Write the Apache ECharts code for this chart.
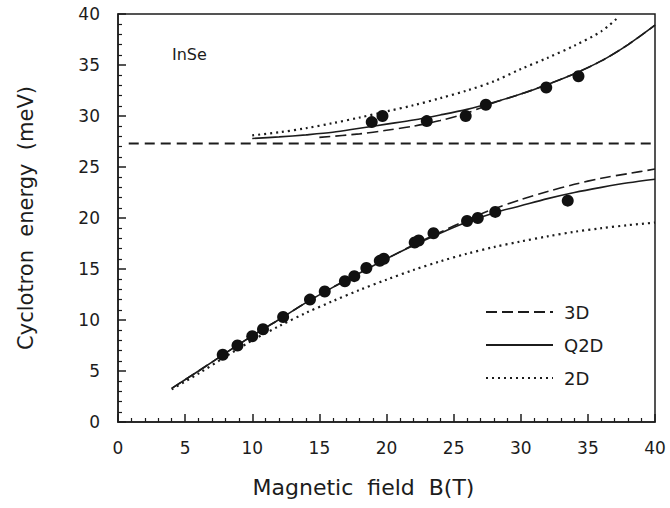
<!DOCTYPE html>
<html>
<head>
<meta charset="utf-8">
<script src="https://cdn.jsdelivr.net/npm/echarts@6/dist/echarts.min.js"></script>
<style>
  html, body { margin: 0; padding: 0; background: #fff; }
  #chart { width: 670px; height: 508px; }
</style>
</head>
<body>
<div id="chart"></div>
<script>
// tick values
var xTicks = [0, 5, 10, 15, 20, 25, 30, 35, 40];
var yTicks = [0, 5, 10, 15, 20, 25, 30, 35, 40];

// measured points (B, energy)
var dotsLower = [
	[7.8, 6.6], [8.9, 7.5], [10.0, 8.4], [10.8, 9.1], [12.3, 10.3], [14.3, 12.0],
	[15.4, 12.8], [16.9, 13.8], [17.6, 14.3], [18.5, 15.1], [19.5, 15.8], [19.8, 16.0],
	[22.1, 17.6], [22.4, 17.8], [23.5, 18.5], [26.0, 19.7], [26.8, 20.0], [28.1, 20.6],
	[33.5, 21.7]
];
var dotsUpper = [
	[18.9, 29.4], [19.7, 30.0], [23.0, 29.5], [25.9, 30.0], [27.4, 31.1],
	[31.9, 32.8], [34.3, 33.9]
];

// horizontal reference level
var refLine = [[0.8, 27.3], [40, 27.3]];

// calculated curves: lower branch
var xLow = [4, 6, 8, 10, 12, 14, 16, 18, 20, 22, 24, 26, 28, 30, 32, 34, 36, 38, 40];
var q2dLow = [3.3, 5.0, 6.75, 8.45, 10.05, 11.7, 13.2, 14.6, 16.0, 17.3, 18.5, 19.6, 20.5, 21.2, 21.9, 22.5, 23.0, 23.45, 23.8];
var d3Low = [3.3, 5.0, 6.75, 8.45, 10.05, 11.7, 13.2, 14.6, 16.0, 17.35, 18.6, 19.8, 20.9, 21.8, 22.6, 23.3, 23.9, 24.35, 24.8];
var d2Low = [3.2, 4.75, 6.4, 8.0, 9.4, 10.7, 11.85, 12.95, 13.95, 14.9, 15.75, 16.5, 17.15, 17.7, 18.2, 18.65, 19.0, 19.3, 19.55];

// calculated curves: upper branch
var xUpQ2d = [10, 12, 14, 16, 18, 20, 22, 24, 26, 28, 30, 32, 34, 36, 38, 40];
var q2dUp = [27.8, 27.95, 28.15, 28.4, 28.8, 29.2, 29.6, 30.1, 30.65, 31.35, 32.15, 33.1, 34.15, 35.4, 37.0, 38.9];
var xUp3d = [15, 18, 20, 22, 24, 26, 28, 30, 32, 34, 36, 38, 40];
var d3Up = [27.9, 28.25, 28.6, 29.0, 29.55, 30.3, 31.3, 32.15, 33.1, 34.15, 35.4, 37.0, 38.9];
var xUp2d = [10, 12, 14, 16, 18, 20, 22, 24, 26, 28, 30, 32, 34, 36, 37.2];
var d2Up = [28.1, 28.4, 28.8, 29.3, 29.85, 30.45, 31.05, 31.75, 32.5, 33.4, 34.6, 35.7, 36.9, 38.3, 39.6];

function pairs(xs, ys) {
	var out = [];
	for (var i = 0; i < xs.length; i++) out.push([xs[i], ys[i]]);
	return out;
}

var ink = '#1c1c1c';
var font = '"DejaVu Sans", sans-serif';
var dashStyle = [11, 5];
var dotStyle = [2, 4];

var myChart = echarts.init(document.getElementById('chart'), null, { renderer: 'svg' });

function curve(name, data, type, width) {
	return {
		name: name,
		type: 'line',
		data: data,
		symbol: 'none',
		smooth: 0.3,
		silent: true,
		z: 3,
		itemStyle: { color: ink },
		lineStyle: { color: ink, width: width, type: type }
	};
}

function axisCommon() {
	return {
		type: 'value',
		min: 0,
		max: 40,
		interval: 5,
		axisLine: { show: true, lineStyle: { color: ink, width: 1.5 } },
		axisTick: { show: true, inside: true, length: 8, lineStyle: { color: ink, width: 1.5 } },
		minorTick: { show: true, splitNumber: 5, length: 4, lineStyle: { color: ink, width: 1.2 } },
		splitLine: { show: false },
		minorSplitLine: { show: false }
	};
}

var xAxis = axisCommon();
xAxis.name = 'Magnetic  field  B(T)';
xAxis.nameLocation = 'middle';
xAxis.nameGap = 54;
xAxis.nameTextStyle = { fontFamily: font, fontSize: 22, color: ink, padding: [0, 46, 0, 0] };
xAxis.axisLabel = {
	margin: 17, fontFamily: font, fontSize: 17, color: ink,
	formatter: function (v) { return xTicks.indexOf(v) >= 0 ? String(v) : ''; }
};

var yAxis = axisCommon();
yAxis.name = 'Cyclotron  energy  (meV)';
yAxis.nameLocation = 'middle';
yAxis.nameGap = 82;
yAxis.nameRotate = 90;
yAxis.nameTextStyle = { fontFamily: font, fontSize: 21, color: ink };
yAxis.axisLabel = {
	margin: 18, fontFamily: font, fontSize: 17, color: ink,
	formatter: function (v) { return yTicks.indexOf(v) >= 0 ? String(v) : ''; }
};

myChart.setOption({
	animation: false,
	backgroundColor: '#fff',
	title: {
		text: 'InSe',
		left: 167,
		top: 41,
		textStyle: { fontFamily: font, fontSize: 16, fontWeight: 'normal', color: ink }
	},
	legend: {
		data: ['3D', 'Q2D', '2D'],
		orient: 'vertical',
		left: 480,
		top: 298,
		itemWidth: 67,
		itemHeight: 14,
		itemGap: 15,
		itemStyle: { opacity: 0 },
		textStyle: { fontFamily: font, fontSize: 18, color: ink, padding: [0, 0, 0, 6] }
	},
	grid: {
		left: 118,
		right: 15,
		top: 14,
		bottom: 86,
		show: true,
		borderColor: ink,
		borderWidth: 1.5
	},
	xAxis: xAxis,
	yAxis: yAxis,
	series: [
		curve('3D', pairs(xLow, d3Low), dashStyle, 1.6),
		curve('Q2D', pairs(xLow, q2dLow), 'solid', 1.6),
		curve('2D', pairs(xLow, d2Low), dotStyle, 2.2),
		curve('3D', pairs(xUp3d, d3Up), dashStyle, 1.6),
		curve('Q2D', pairs(xUpQ2d, q2dUp), 'solid', 1.6),
		curve('2D', pairs(xUp2d, d2Up), dotStyle, 2.2),
		{
			name: 'level',
			type: 'line',
			data: refLine,
			symbol: 'none',
			silent: true,
			lineStyle: { color: ink, width: 2, type: [10, 6] }
		},
		{
			name: 'data',
			type: 'scatter',
			data: dotsLower.concat(dotsUpper),
			symbol: 'circle',
			symbolSize: 12,
			z: 4,
			itemStyle: { color: '#111', opacity: 1 }
		}
	]
});
</script>
</body>
</html>
